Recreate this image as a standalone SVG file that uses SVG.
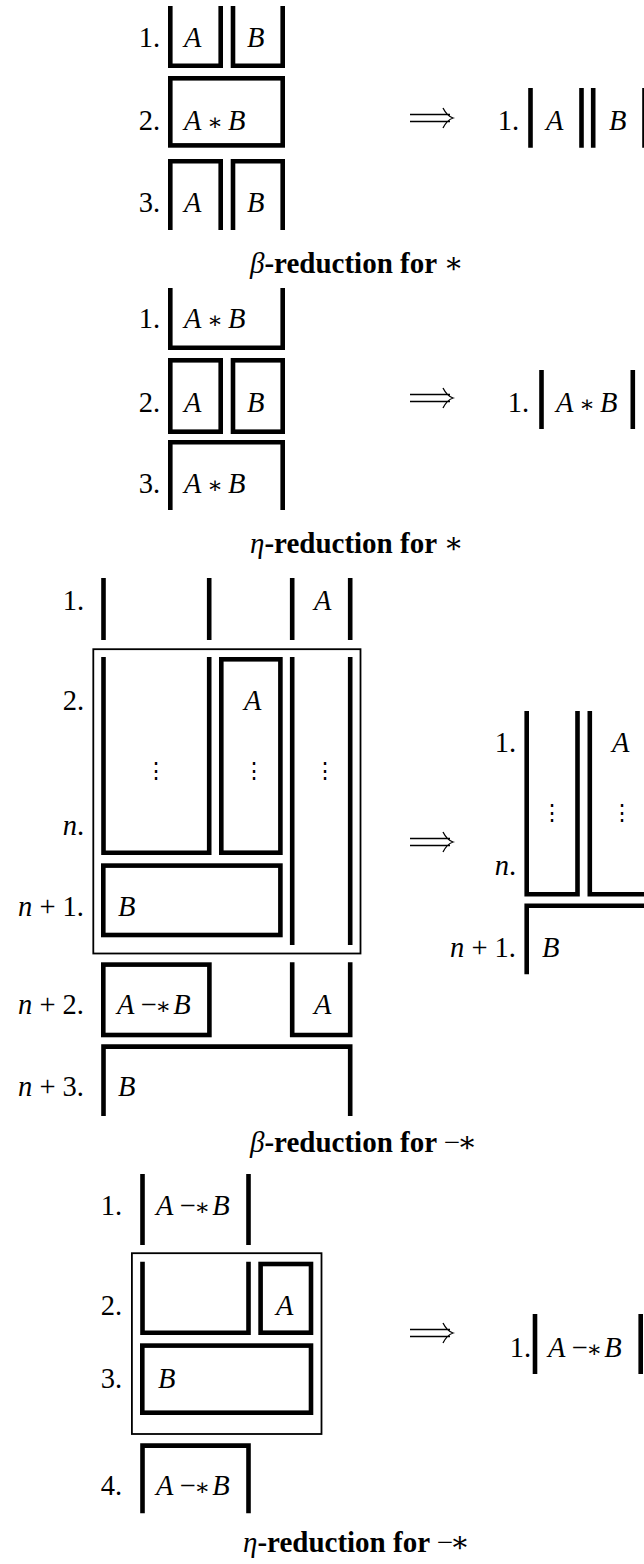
<svg xmlns="http://www.w3.org/2000/svg" width="644" height="1564" viewBox="0 0 644 1564">
<style>
.b{fill:none;stroke:#000;stroke-width:4.6;stroke-linejoin:miter;stroke-linecap:butt}
.t{fill:none;stroke:#000;stroke-width:1.8}
.ar{fill:none;stroke:#000;stroke-width:1.3}
text{font-family:"Liberation Serif","DejaVu Serif",serif;font-size:28.5px;fill:#000}
.lab{text-anchor:end}
.m{font-style:italic}
.o{text-anchor:middle;font-family:"DejaVu Serif",serif;font-size:23px}
.ws{font-family:"DejaVu Serif",serif;font-size:23px}
.cap{font-size:29px;font-weight:bold}
.dots{font-family:"DejaVu Serif",serif;font-size:22px;text-anchor:middle}
</style>
<defs>
<g id="arrow">
<path class="ar" d="M0,-3.5 H40 M0,3.5 H40 M33,-10 Q37,-2 43,0 Q37,2 33,10"/>
</g>
</defs>

<!-- Section 1: beta-reduction for * -->
<g id="s1-labels">
<text class="lab" x="160" y="47">1.</text>
<text class="lab" x="160" y="130">2.</text>
<text class="lab" x="160" y="212">3.</text>
</g>
<g id="s1-r1-A"><path class="b" d="M170.3,6 V65.7 H220.7 V6"/><text class="m" x="184" y="47">A</text></g>
<g id="s1-r1-B"><path class="b" d="M233,6 V65.7 H282.7 V6"/><text class="m" x="247" y="47">B</text></g>
<g id="s1-r2"><rect class="b" x="170.3" y="78.3" width="112.4" height="67.1"/><text class="m" x="184" y="130">A</text><text class="o" x="215" y="130">∗</text><text class="m" x="228" y="130">B</text></g>
<g id="s1-r3-A"><path class="b" d="M170.3,230 V161.3 H220.7 V230"/><text class="m" x="184" y="212">A</text></g>
<g id="s1-r3-B"><path class="b" d="M233,230 V161.3 H282.7 V230"/><text class="m" x="247" y="212">B</text></g>
<g id="s1-result">
<text class="lab" x="519" y="130">1.</text>
<path class="b" d="M530.5,88 V147.7 M581.5,88 V147.7 M593.2,88 V147.7 M644.5,88 V147.7"/>
<text class="m" x="546" y="130">A</text>
<text class="m" x="609" y="130">B</text>
</g>
<text id="s1-caption" class="cap" x="250" y="273"><tspan class="m" font-weight="normal">β</tspan>-reduction for <tspan font-weight="normal">∗</tspan></text>

<!-- Section 2: eta-reduction for * -->
<g id="s2-labels">
<text class="lab" x="160" y="328">1.</text>
<text class="lab" x="160" y="412">2.</text>
<text class="lab" x="160" y="493">3.</text>
</g>
<g id="s2-r1"><path class="b" d="M170.3,288 V347.7 H282.7 V288"/><text class="m" x="184" y="328">A</text><text class="o" x="215" y="328">∗</text><text class="m" x="228" y="328">B</text></g>
<g id="s2-r2-A"><rect class="b" x="170.3" y="360.3" width="50.4" height="71.4"/><text class="m" x="184" y="412">A</text></g>
<g id="s2-r2-B"><rect class="b" x="233" y="360.3" width="49.7" height="71.4"/><text class="m" x="247" y="412">B</text></g>
<g id="s2-r3"><path class="b" d="M170.3,510 V442.3 H282.7 V510"/><text class="m" x="184" y="493">A</text><text class="o" x="215" y="493">∗</text><text class="m" x="228" y="493">B</text></g>
<g id="s2-result">
<text class="lab" x="529" y="412">1.</text>
<path class="b" d="M541.5,370 V429 M632.8,370 V429"/>
<text class="m" x="556" y="412">A</text><text class="o" x="587" y="412">∗</text><text class="m" x="600" y="412">B</text>
</g>
<text id="s2-caption" class="cap" x="250" y="553"><tspan class="m" font-weight="normal">η</tspan>-reduction for <tspan font-weight="normal">∗</tspan></text>

<!-- Section 3: beta-reduction for -* -->
<g id="s3-labels">
<text class="lab" x="84" y="610">1.</text>
<text class="lab" x="84" y="710">2.</text>
<text class="lab" x="84" y="835"><tspan class="m">n</tspan>.</text>
<text class="lab" x="84" y="916"><tspan class="m">n</tspan> + 1.</text>
<text class="lab" x="84" y="1014"><tspan class="m">n</tspan> + 2.</text>
<text class="lab" x="84" y="1096"><tspan class="m">n</tspan> + 3.</text>
</g>
<g id="s3-r1"><path class="b" d="M103.5,578 V640 M209.2,578 V640 M292.2,578 V640 M350.2,578 V640"/><text class="m" x="314" y="610">A</text></g>
<g id="s3-subproof">
<rect class="t" x="93.3" y="649.2" width="267.2" height="304.3"/>
<g id="s3-left"><path class="b" d="M103.5,657 V852.7 H209.2 V657"/><text class="dots" x="156" y="778">⋮</text></g>
<g id="s3-mid"><rect class="b" x="221.3" y="659.3" width="59.1" height="193.4"/><text class="m" x="244" y="710">A</text><text class="dots" x="254" y="778">⋮</text></g>
<g id="s3-right"><path class="b" d="M292.2,657 V945 M350.2,657 V945"/><text class="dots" x="325" y="778">⋮</text></g>
<g id="s3-B"><rect class="b" x="103.3" y="865.6" width="177.1" height="69.4"/><text class="m" x="118" y="916">B</text></g>
</g>
<g id="s3-n2-wand"><rect class="b" x="103.3" y="964.6" width="106.1" height="70.4"/><text x="117" y="1014"><tspan class="m">A</tspan><tspan dx="6" letter-spacing="-1">−</tspan><tspan class="ws">∗</tspan><tspan class="m" dx="2">B</tspan></text></g>
<g id="s3-n2-A"><path class="b" d="M292.2,962.3 V1035 H350.2 V962.3"/><text class="m" x="314" y="1014">A</text></g>
<g id="s3-n3"><path class="b" d="M103.5,1116 V1046.6 H350.2 V1116"/><text class="m" x="118" y="1096">B</text></g>
<g id="s3-result">
<text class="lab" x="516" y="752">1.</text>
<text class="lab" x="516" y="875"><tspan class="m">n</tspan>.</text>
<text class="lab" x="516" y="957"><tspan class="m">n</tspan> + 1.</text>
<path class="b" d="M526.7,711 V894.2 H577.5 V711"/>
<path class="b" d="M589.8,711 V894.2 H650"/>
<path class="b" d="M526.7,974.3 V905.8 H650"/>
<text class="m" x="612" y="752">A</text>
<text class="dots" x="552" y="820">⋮</text>
<text class="dots" x="622" y="820">⋮</text>
<text class="m" x="542" y="957">B</text>
</g>
<text id="s3-caption" class="cap" x="250" y="1152"><tspan class="m" font-weight="normal">β</tspan>-reduction for <tspan font-weight="normal" letter-spacing="-3">−∗</tspan></text>

<!-- Section 4: eta-reduction for -* -->
<g id="s4-labels">
<text class="lab" x="122" y="1215">1.</text>
<text class="lab" x="122" y="1315">2.</text>
<text class="lab" x="122" y="1388">3.</text>
<text class="lab" x="122" y="1495">4.</text>
</g>
<g id="s4-r1"><path class="b" d="M142.5,1174 V1245 M248.5,1174 V1245"/><text x="156" y="1215"><tspan class="m">A</tspan><tspan dx="6" letter-spacing="-1">−</tspan><tspan class="ws">∗</tspan><tspan class="m" dx="2">B</tspan></text></g>
<g id="s4-subproof">
<rect class="t" x="131.9" y="1253.2" width="189.6" height="180.8"/>
<g id="s4-r2-open"><path class="b" d="M142.5,1261.7 V1332.7 H248.5 V1261.7"/></g>
<g id="s4-r2-A"><rect class="b" x="260.6" y="1264" width="50.4" height="68.7"/><text class="m" x="276" y="1315">A</text></g>
<g id="s4-r3-B"><rect class="b" x="142.3" y="1345.6" width="168.7" height="67.1"/><text class="m" x="158" y="1388">B</text></g>
</g>
<g id="s4-r4"><path class="b" d="M142.5,1513.3 V1445.6 H248.5 V1513.3"/><text x="156" y="1495"><tspan class="m">A</tspan><tspan dx="6" letter-spacing="-1">−</tspan><tspan class="ws">∗</tspan><tspan class="m" dx="2">B</tspan></text></g>
<g id="s4-result">
<text class="lab" x="531" y="1357">1.</text>
<path class="b" d="M535,1314 V1374 M640.7,1314 V1374"/>
<text x="548" y="1357"><tspan class="m">A</tspan><tspan dx="6" letter-spacing="-1">−</tspan><tspan class="ws">∗</tspan><tspan class="m" dx="2">B</tspan></text>
</g>
<text id="s4-caption" class="cap" x="243" y="1552"><tspan class="m" font-weight="normal">η</tspan>-reduction for <tspan font-weight="normal" letter-spacing="-3">−∗</tspan></text>

<g id="connectors">
<use href="#arrow" x="410" y="118"/>
<use href="#arrow" x="410" y="398"/>
<use href="#arrow" x="410" y="842"/>
<use href="#arrow" x="410" y="1333"/>
</g>
</svg>
